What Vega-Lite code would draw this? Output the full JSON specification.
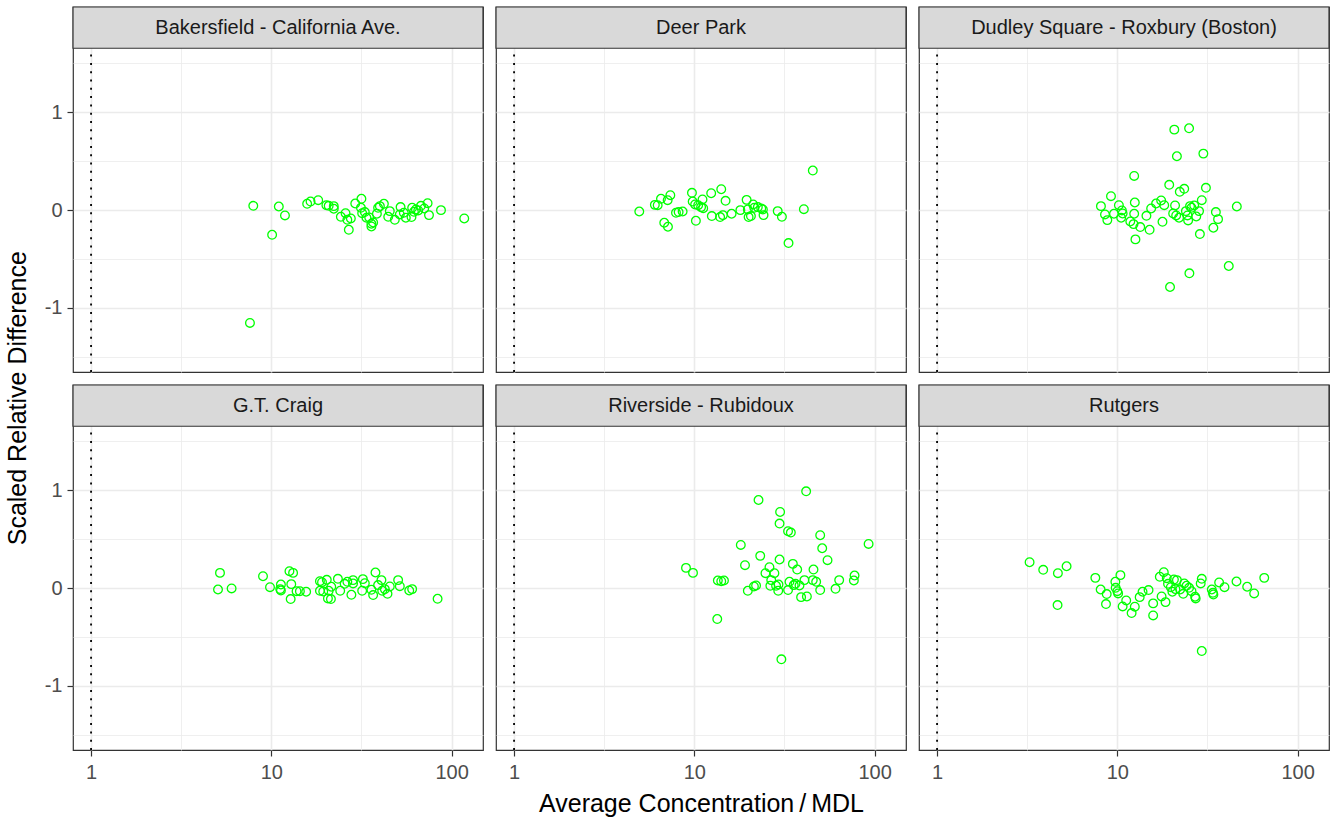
{
"$schema": "https://vega.github.io/schema/vega-lite/v6.json",
"padding": {"left": 5, "top": 5, "right": 2, "bottom": 4},
"background": "white",
"bounds": "flush",
"title": {"text": "Scaled Relative Difference", "orient": "left", "anchor": "middle", "fontSize": 25, "font": "Liberation Sans", "fontWeight": "normal", "color": "#000000", "offset": 13, "dx": 13},
"data": {"values": [
{"site":"Bakersfield - California Ave.","conc":7.94,"srd":0.044},{"site":"Bakersfield - California Ave.","conc":7.61,"srd":-1.153},{"site":"Bakersfield - California Ave.","conc":10.1,"srd":-0.252},{"site":"Bakersfield - California Ave.","conc":11.0,"srd":0.037},{"site":"Bakersfield - California Ave.","conc":11.9,"srd":-0.054},{"site":"Bakersfield - California Ave.","conc":15.8,"srd":0.065},{"site":"Bakersfield - California Ave.","conc":16.5,"srd":0.088},{"site":"Bakersfield - California Ave.","conc":18.2,"srd":0.102},{"site":"Bakersfield - California Ave.","conc":20.2,"srd":0.051},{"site":"Bakersfield - California Ave.","conc":20.8,"srd":0.044},{"site":"Bakersfield - California Ave.","conc":22.2,"srd":0.041},{"site":"Bakersfield - California Ave.","conc":22.2,"srd":0.014},{"site":"Bakersfield - California Ave.","conc":24.3,"srd":-0.068},{"site":"Bakersfield - California Ave.","conc":25.8,"srd":-0.031},{"site":"Bakersfield - California Ave.","conc":26.4,"srd":-0.099},{"site":"Bakersfield - California Ave.","conc":27.6,"srd":-0.085},{"site":"Bakersfield - California Ave.","conc":26.9,"srd":-0.201},{"site":"Bakersfield - California Ave.","conc":29.2,"srd":0.068},{"site":"Bakersfield - California Ave.","conc":31.6,"srd":0.116},{"site":"Bakersfield - California Ave.","conc":31.4,"srd":0.024},{"site":"Bakersfield - California Ave.","conc":31.9,"srd":-0.031},{"site":"Bakersfield - California Ave.","conc":33.0,"srd":-0.020},{"site":"Bakersfield - California Ave.","conc":33.7,"srd":-0.078},{"site":"Bakersfield - California Ave.","conc":34.9,"srd":-0.075},{"site":"Bakersfield - California Ave.","conc":35.9,"srd":-0.139},{"site":"Bakersfield - California Ave.","conc":35.9,"srd":-0.167},{"site":"Bakersfield - California Ave.","conc":36.7,"srd":-0.126},{"site":"Bakersfield - California Ave.","conc":38.5,"srd":-0.037},{"site":"Bakersfield - California Ave.","conc":39.1,"srd":0.024},{"site":"Bakersfield - California Ave.","conc":40.0,"srd":0.041},{"site":"Bakersfield - California Ave.","conc":42.1,"srd":0.065},{"site":"Bakersfield - California Ave.","conc":45.4,"srd":-0.010},{"site":"Bakersfield - California Ave.","conc":44.5,"srd":-0.068},{"site":"Bakersfield - California Ave.","conc":48.4,"srd":-0.099},{"site":"Bakersfield - California Ave.","conc":52.1,"srd":0.031},{"site":"Bakersfield - California Ave.","conc":51.6,"srd":-0.044},{"site":"Bakersfield - California Ave.","conc":54.3,"srd":-0.027},{"site":"Bakersfield - California Ave.","conc":55.7,"srd":-0.078},{"site":"Bakersfield - California Ave.","conc":59.9,"srd":-0.071},{"site":"Bakersfield - California Ave.","conc":60.4,"srd":0.024},{"site":"Bakersfield - California Ave.","conc":61.8,"srd":-0.017},{"site":"Bakersfield - California Ave.","conc":63.4,"srd":0.007},{"site":"Bakersfield - California Ave.","conc":65.3,"srd":-0.003},{"site":"Bakersfield - California Ave.","conc":67.6,"srd":0.044},{"site":"Bakersfield - California Ave.","conc":70.5,"srd":0.017},{"site":"Bakersfield - California Ave.","conc":73.6,"srd":0.071},{"site":"Bakersfield - California Ave.","conc":74.9,"srd":-0.051},{"site":"Bakersfield - California Ave.","conc":87.3,"srd":0.0},{"site":"Bakersfield - California Ave.","conc":117.5,"srd":-0.085},
{"site":"Deer Park","conc":4.95,"srd":-0.014},{"site":"Deer Park","conc":6.04,"srd":0.054},{"site":"Deer Park","conc":6.26,"srd":0.051},{"site":"Deer Park","conc":6.53,"srd":0.116},{"site":"Deer Park","conc":7.11,"srd":0.102},{"site":"Deer Park","conc":7.36,"srd":0.153},{"site":"Deer Park","conc":6.81,"srd":-0.129},{"site":"Deer Park","conc":7.14,"srd":-0.170},{"site":"Deer Park","conc":7.91,"srd":-0.027},{"site":"Deer Park","conc":8.18,"srd":-0.020},{"site":"Deer Park","conc":8.61,"srd":-0.014},{"site":"Deer Park","conc":9.70,"srd":0.177},{"site":"Deer Park","conc":9.79,"srd":0.088},{"site":"Deer Park","conc":10.1,"srd":0.058},{"site":"Deer Park","conc":10.2,"srd":-0.109},{"site":"Deer Park","conc":10.5,"srd":0.051},{"site":"Deer Park","conc":11.1,"srd":0.109},{"site":"Deer Park","conc":10.9,"srd":0.031},{"site":"Deer Park","conc":11.2,"srd":0.020},{"site":"Deer Park","conc":12.4,"srd":0.173},{"site":"Deer Park","conc":12.5,"srd":-0.061},{"site":"Deer Park","conc":13.9,"srd":-0.071},{"site":"Deer Park","conc":14.4,"srd":-0.051},{"site":"Deer Park","conc":14.1,"srd":0.214},{"site":"Deer Park","conc":14.9,"srd":0.095},{"site":"Deer Park","conc":16.1,"srd":-0.037},{"site":"Deer Park","conc":18.0,"srd":0.0},{"site":"Deer Park","conc":19.5,"srd":0.105},{"site":"Deer Park","conc":19.8,"srd":0.007},{"site":"Deer Park","conc":20.0,"srd":-0.071},{"site":"Deer Park","conc":20.6,"srd":-0.061},{"site":"Deer Park","conc":21.2,"srd":0.058},{"site":"Deer Park","conc":21.5,"srd":0.024},{"site":"Deer Park","conc":22.5,"srd":0.031},{"site":"Deer Park","conc":23.5,"srd":0.017},{"site":"Deer Park","conc":24.0,"srd":0.007},{"site":"Deer Park","conc":24.2,"srd":-0.051},{"site":"Deer Park","conc":29.0,"srd":-0.010},{"site":"Deer Park","conc":30.6,"srd":-0.068},{"site":"Deer Park","conc":33.3,"srd":-0.337},{"site":"Deer Park","conc":40.5,"srd":0.010},{"site":"Deer Park","conc":45.4,"srd":0.405},
{"site":"Dudley Square - Roxbury (Boston)","conc":8.11,"srd":0.041},{"site":"Dudley Square - Roxbury (Boston)","conc":8.54,"srd":-0.044},{"site":"Dudley Square - Roxbury (Boston)","conc":8.80,"srd":-0.102},{"site":"Dudley Square - Roxbury (Boston)","conc":9.22,"srd":0.143},{"site":"Dudley Square - Roxbury (Boston)","conc":9.58,"srd":-0.037},{"site":"Dudley Square - Roxbury (Boston)","conc":10.2,"srd":0.051},{"site":"Dudley Square - Roxbury (Boston)","conc":10.6,"srd":-0.003},{"site":"Dudley Square - Roxbury (Boston)","conc":10.5,"srd":-0.078},{"site":"Dudley Square - Roxbury (Boston)","conc":10.7,"srd":-0.034},{"site":"Dudley Square - Roxbury (Boston)","conc":11.8,"srd":-0.116},{"site":"Dudley Square - Roxbury (Boston)","conc":12.3,"srd":-0.143},{"site":"Dudley Square - Roxbury (Boston)","conc":12.4,"srd":-0.037},{"site":"Dudley Square - Roxbury (Boston)","conc":12.5,"srd":0.078},{"site":"Dudley Square - Roxbury (Boston)","conc":12.4,"srd":0.350},{"site":"Dudley Square - Roxbury (Boston)","conc":12.6,"srd":-0.299},{"site":"Dudley Square - Roxbury (Boston)","conc":13.4,"srd":-0.173},{"site":"Dudley Square - Roxbury (Boston)","conc":14.5,"srd":-0.058},{"site":"Dudley Square - Roxbury (Boston)","conc":15.1,"srd":-0.201},{"site":"Dudley Square - Roxbury (Boston)","conc":15.4,"srd":0.017},{"site":"Dudley Square - Roxbury (Boston)","conc":16.4,"srd":0.068},{"site":"Dudley Square - Roxbury (Boston)","conc":17.5,"srd":0.099},{"site":"Dudley Square - Roxbury (Boston)","conc":17.8,"srd":-0.119},{"site":"Dudley Square - Roxbury (Boston)","conc":18.2,"srd":0.051},{"site":"Dudley Square - Roxbury (Boston)","conc":19.4,"srd":0.259},{"site":"Dudley Square - Roxbury (Boston)","conc":19.6,"srd":-0.786},{"site":"Dudley Square - Roxbury (Boston)","conc":20.7,"srd":0.823},{"site":"Dudley Square - Roxbury (Boston)","conc":20.9,"srd":0.048},{"site":"Dudley Square - Roxbury (Boston)","conc":20.4,"srd":-0.034},{"site":"Dudley Square - Roxbury (Boston)","conc":21.2,"srd":-0.054},{"site":"Dudley Square - Roxbury (Boston)","conc":21.4,"srd":0.551},{"site":"Dudley Square - Roxbury (Boston)","conc":22.0,"srd":-0.078},{"site":"Dudley Square - Roxbury (Boston)","conc":22.2,"srd":0.187},{"site":"Dudley Square - Roxbury (Boston)","conc":23.5,"srd":0.218},{"site":"Dudley Square - Roxbury (Boston)","conc":24.0,"srd":-0.010},{"site":"Dudley Square - Roxbury (Boston)","conc":24.5,"srd":-0.054},{"site":"Dudley Square - Roxbury (Boston)","conc":24.7,"srd":-0.105},{"site":"Dudley Square - Roxbury (Boston)","conc":25.0,"srd":0.837},{"site":"Dudley Square - Roxbury (Boston)","conc":25.1,"srd":-0.646},{"site":"Dudley Square - Roxbury (Boston)","conc":25.3,"srd":0.041},{"site":"Dudley Square - Roxbury (Boston)","conc":25.8,"srd":0.024},{"site":"Dudley Square - Roxbury (Boston)","conc":26.7,"srd":0.048},{"site":"Dudley Square - Roxbury (Boston)","conc":27.4,"srd":-0.065},{"site":"Dudley Square - Roxbury (Boston)","conc":28.4,"srd":-0.010},{"site":"Dudley Square - Roxbury (Boston)","conc":28.7,"srd":-0.245},{"site":"Dudley Square - Roxbury (Boston)","conc":29.4,"srd":0.102},{"site":"Dudley Square - Roxbury (Boston)","conc":30.0,"srd":0.578},{"site":"Dudley Square - Roxbury (Boston)","conc":31.0,"srd":0.228},{"site":"Dudley Square - Roxbury (Boston)","conc":34.1,"srd":-0.180},{"site":"Dudley Square - Roxbury (Boston)","conc":35.2,"srd":-0.020},{"site":"Dudley Square - Roxbury (Boston)","conc":36.2,"srd":-0.092},{"site":"Dudley Square - Roxbury (Boston)","conc":41.5,"srd":-0.571},{"site":"Dudley Square - Roxbury (Boston)","conc":46.0,"srd":0.037},
{"site":"G.T. Craig","conc":5.06,"srd":-0.014},{"site":"G.T. Craig","conc":5.19,"srd":0.156},{"site":"G.T. Craig","conc":6.02,"srd":-0.003},{"site":"G.T. Craig","conc":8.99,"srd":0.122},{"site":"G.T. Craig","conc":9.83,"srd":0.010},{"site":"G.T. Craig","conc":11.2,"srd":-0.010},{"site":"G.T. Craig","conc":11.3,"srd":0.037},{"site":"G.T. Craig","conc":11.3,"srd":-0.024},{"site":"G.T. Craig","conc":12.6,"srd":0.173},{"site":"G.T. Craig","conc":13.2,"srd":0.156},{"site":"G.T. Craig","conc":12.9,"srd":0.041},{"site":"G.T. Craig","conc":12.8,"srd":-0.112},{"site":"G.T. Craig","conc":13.8,"srd":-0.031},{"site":"G.T. Craig","conc":14.4,"srd":-0.031},{"site":"G.T. Craig","conc":15.6,"srd":-0.037},{"site":"G.T. Craig","conc":18.6,"srd":0.071},{"site":"G.T. Craig","conc":19.1,"srd":0.061},{"site":"G.T. Craig","conc":20.3,"srd":0.085},{"site":"G.T. Craig","conc":18.6,"srd":-0.027},{"site":"G.T. Craig","conc":19.4,"srd":-0.034},{"site":"G.T. Craig","conc":20.8,"srd":-0.027},{"site":"G.T. Craig","conc":21.5,"srd":0.014},{"site":"G.T. Craig","conc":20.6,"srd":-0.105},{"site":"G.T. Craig","conc":21.4,"srd":-0.112},{"site":"G.T. Craig","conc":23.4,"srd":0.095},{"site":"G.T. Craig","conc":24.1,"srd":-0.027},{"site":"G.T. Craig","conc":25.5,"srd":0.044},{"site":"G.T. Craig","conc":26.4,"srd":0.065},{"site":"G.T. Craig","conc":27.8,"srd":-0.068},{"site":"G.T. Craig","conc":28.4,"srd":0.082},{"site":"G.T. Craig","conc":28.4,"srd":0.048},{"site":"G.T. Craig","conc":31.9,"srd":-0.027},{"site":"G.T. Craig","conc":32.2,"srd":0.092},{"site":"G.T. Craig","conc":33.0,"srd":0.051},{"site":"G.T. Craig","conc":35.9,"srd":-0.017},{"site":"G.T. Craig","conc":36.7,"srd":-0.071},{"site":"G.T. Craig","conc":37.8,"srd":0.160},{"site":"G.T. Craig","conc":39.1,"srd":0.031},{"site":"G.T. Craig","conc":40.8,"srd":0.082},{"site":"G.T. Craig","conc":41.2,"srd":-0.027},{"site":"G.T. Craig","conc":42.6,"srd":-0.010},{"site":"G.T. Craig","conc":44.1,"srd":-0.058},{"site":"G.T. Craig","conc":45.4,"srd":0.017},{"site":"G.T. Craig","conc":50.5,"srd":0.082},{"site":"G.T. Craig","conc":51.6,"srd":0.020},{"site":"G.T. Craig","conc":58.2,"srd":-0.024},{"site":"G.T. Craig","conc":60.4,"srd":-0.010},{"site":"G.T. Craig","conc":83.6,"srd":-0.109},
{"site":"Riverside - Rubidoux","conc":8.99,"srd":0.207},{"site":"Riverside - Rubidoux","conc":9.83,"srd":0.156},{"site":"Riverside - Rubidoux","conc":13.4,"srd":-0.316},{"site":"Riverside - Rubidoux","conc":13.5,"srd":0.078},{"site":"Riverside - Rubidoux","conc":14.1,"srd":0.071},{"site":"Riverside - Rubidoux","conc":14.6,"srd":0.078},{"site":"Riverside - Rubidoux","conc":18.1,"srd":0.442},{"site":"Riverside - Rubidoux","conc":19.1,"srd":0.235},{"site":"Riverside - Rubidoux","conc":19.8,"srd":-0.027},{"site":"Riverside - Rubidoux","conc":21.4,"srd":0.017},{"site":"Riverside - Rubidoux","conc":22.0,"srd":0.027},{"site":"Riverside - Rubidoux","conc":22.7,"srd":0.901},{"site":"Riverside - Rubidoux","conc":23.2,"srd":0.330},{"site":"Riverside - Rubidoux","conc":24.8,"srd":0.153},{"site":"Riverside - Rubidoux","conc":26.1,"srd":0.214},{"site":"Riverside - Rubidoux","conc":26.7,"srd":0.082},{"site":"Riverside - Rubidoux","conc":26.4,"srd":0.024},{"site":"Riverside - Rubidoux","conc":27.8,"srd":0.153},{"site":"Riverside - Rubidoux","conc":28.4,"srd":0.024},{"site":"Riverside - Rubidoux","conc":29.2,"srd":-0.027},{"site":"Riverside - Rubidoux","conc":29.7,"srd":0.293},{"site":"Riverside - Rubidoux","conc":29.9,"srd":0.779},{"site":"Riverside - Rubidoux","conc":29.7,"srd":0.660},{"site":"Riverside - Rubidoux","conc":30.4,"srd":-0.728},{"site":"Riverside - Rubidoux","conc":29.3,"srd":0.037},{"site":"Riverside - Rubidoux","conc":33.1,"srd":-0.020},{"site":"Riverside - Rubidoux","conc":33.1,"srd":0.582},{"site":"Riverside - Rubidoux","conc":34.3,"srd":0.568},{"site":"Riverside - Rubidoux","conc":33.7,"srd":0.065},{"site":"Riverside - Rubidoux","conc":35.2,"srd":0.248},{"site":"Riverside - Rubidoux","conc":35.6,"srd":0.031},{"site":"Riverside - Rubidoux","conc":36.4,"srd":0.044},{"site":"Riverside - Rubidoux","conc":37.2,"srd":0.190},{"site":"Riverside - Rubidoux","conc":38.3,"srd":0.027},{"site":"Riverside - Rubidoux","conc":39.1,"srd":-0.092},{"site":"Riverside - Rubidoux","conc":40.8,"srd":0.082},{"site":"Riverside - Rubidoux","conc":41.7,"srd":0.990},{"site":"Riverside - Rubidoux","conc":42.1,"srd":-0.085},{"site":"Riverside - Rubidoux","conc":45.4,"srd":0.082},{"site":"Riverside - Rubidoux","conc":45.8,"srd":0.190},{"site":"Riverside - Rubidoux","conc":47.4,"srd":0.065},{"site":"Riverside - Rubidoux","conc":49.9,"srd":-0.020},{"site":"Riverside - Rubidoux","conc":49.9,"srd":0.541},{"site":"Riverside - Rubidoux","conc":51.2,"srd":0.408},{"site":"Riverside - Rubidoux","conc":54.8,"srd":0.286},{"site":"Riverside - Rubidoux","conc":60.7,"srd":-0.007},{"site":"Riverside - Rubidoux","conc":63.6,"srd":0.082},{"site":"Riverside - Rubidoux","conc":76.7,"srd":0.078},{"site":"Riverside - Rubidoux","conc":77.4,"srd":0.129},{"site":"Riverside - Rubidoux","conc":92.6,"srd":0.452},
{"site":"Rutgers","conc":3.26,"srd":0.265},{"site":"Rutgers","conc":3.88,"srd":0.187},{"site":"Rutgers","conc":4.68,"srd":0.153},{"site":"Rutgers","conc":5.23,"srd":0.224},{"site":"Rutgers","conc":4.66,"srd":-0.173},{"site":"Rutgers","conc":7.55,"srd":0.105},{"site":"Rutgers","conc":8.08,"srd":-0.014},{"site":"Rutgers","conc":8.73,"srd":-0.061},{"site":"Rutgers","conc":8.65,"srd":-0.163},{"site":"Rutgers","conc":9.75,"srd":0.065},{"site":"Rutgers","conc":9.79,"srd":0.003},{"site":"Rutgers","conc":10.0,"srd":-0.031},{"site":"Rutgers","conc":10.1,"srd":-0.054},{"site":"Rutgers","conc":10.4,"srd":0.133},{"site":"Rutgers","conc":10.7,"srd":-0.187},{"site":"Rutgers","conc":11.2,"srd":-0.126},{"site":"Rutgers","conc":12.0,"srd":-0.255},{"site":"Rutgers","conc":12.5,"srd":-0.190},{"site":"Rutgers","conc":13.3,"srd":-0.092},{"site":"Rutgers","conc":13.8,"srd":-0.037},{"site":"Rutgers","conc":14.9,"srd":-0.020},{"site":"Rutgers","conc":15.8,"srd":-0.156},{"site":"Rutgers","conc":15.8,"srd":-0.279},{"site":"Rutgers","conc":17.2,"srd":0.116},{"site":"Rutgers","conc":17.6,"srd":-0.085},{"site":"Rutgers","conc":18.1,"srd":0.163},{"site":"Rutgers","conc":18.5,"srd":-0.143},{"site":"Rutgers","conc":18.8,"srd":0.102},{"site":"Rutgers","conc":19.1,"srd":0.044},{"site":"Rutgers","conc":19.8,"srd":0.010},{"site":"Rutgers","conc":20.2,"srd":-0.037},{"site":"Rutgers","conc":20.6,"srd":0.088},{"site":"Rutgers","conc":21.0,"srd":-0.010},{"site":"Rutgers","conc":21.4,"srd":0.082},{"site":"Rutgers","conc":22.3,"srd":-0.014},{"site":"Rutgers","conc":23.2,"srd":-0.058},{"site":"Rutgers","conc":23.5,"srd":0.048},{"site":"Rutgers","conc":24.2,"srd":0.024},{"site":"Rutgers","conc":25.0,"srd":0.003},{"site":"Rutgers","conc":25.8,"srd":-0.031},{"site":"Rutgers","conc":27.0,"srd":-0.088},{"site":"Rutgers","conc":27.2,"srd":-0.105},{"site":"Rutgers","conc":29.0,"srd":0.048},{"site":"Rutgers","conc":29.4,"srd":0.095},{"site":"Rutgers","conc":29.4,"srd":-0.643},{"site":"Rutgers","conc":33.4,"srd":-0.014},{"site":"Rutgers","conc":33.9,"srd":-0.048},{"site":"Rutgers","conc":34.1,"srd":-0.065},{"site":"Rutgers","conc":36.7,"srd":0.058},{"site":"Rutgers","conc":39.3,"srd":0.010},{"site":"Rutgers","conc":45.8,"srd":0.068},{"site":"Rutgers","conc":52.5,"srd":0.014},{"site":"Rutgers","conc":57.4,"srd":-0.054},{"site":"Rutgers","conc":65.3,"srd":0.105}
]},
"columns": 3,
"spacing": 13,
"concat": [
{"width": 410, "height": 365, "layer": [
 {"transform": [{"filter": {"field": "site", "equal": "Bakersfield - California Ave."}}], "mark": {"type": "point", "shape": "circle", "filled": false, "color": "#00FF00", "strokeWidth": 1.3, "size": 75, "opacity": 1, "zindex": 2},
  "encoding": {"x": {"field": "conc", "type": "quantitative", "scale": {"type": "log", "domain": [0.794, 149.3], "nice": false}, "axis": {"title": null, "labels": false, "ticks": false, "values": [1, 3.16228, 10, 31.6228, 100], "gridWidth": {"condition": {"test": "datum.value == 1 || datum.value == 10 || datum.value == 100", "value": 1.6}, "value": 0.8}}},
   "y": {"field": "srd", "type": "quantitative", "scale": {"domain": [-1.655, 2.077], "nice": false, "zero": false}, "axis": {"title": null, "values": [-1.5, -1, -0.5, 0, 0.5, 1, 1.5], "labelExpr": "datum.value == 0 ? '0' : datum.value == 1 ? '1' : datum.value == -1 ? '-1' : ''", "gridWidth": {"condition": {"test": "datum.value == 0 || datum.value == 1 || datum.value == -1", "value": 1.6}, "value": 0.8}, "tickOpacity": {"condition": {"test": "datum.value == 0 || datum.value == 1 || datum.value == -1", "value": 1}, "value": 0}}}}},
 {"data": {"values": [{"site": "Bakersfield - California Ave."}]}, "mark": {"type": "rule", "color": "#000000", "strokeWidth": 1.8, "strokeDash": [2, 6.3], "zindex": 1}, "encoding": {"x": {"datum": 1, "type": "quantitative"}, "y": {"datum": -1.655, "type": "quantitative"}, "y2": {"datum": 1.655}}},
 {"data": {"values": [{"site": "Bakersfield - California Ave."}]}, "mark": {"type": "rect", "fill": "#D9D9D9", "stroke": "#333333", "strokeWidth": 1.2, "zindex": 3}, "encoding": {"x": {"datum": 0.794, "type": "quantitative"}, "x2": {"datum": 149.3}, "y": {"datum": 1.655, "type": "quantitative"}, "y2": {"datum": 2.077}}},
 {"data": {"values": [{"site": "Bakersfield - California Ave."}]}, "mark": {"type": "text", "font": "Liberation Sans", "fontSize": 20, "color": "#1A1A1A", "align": "center", "baseline": "middle", "zindex": 4}, "encoding": {"x": {"datum": 10.888, "type": "quantitative"}, "y": {"datum": 1.866, "type": "quantitative"}, "text": {"field": "site", "type": "nominal"}}}
]},
{"width": 410, "height": 365, "layer": [
 {"transform": [{"filter": {"field": "site", "equal": "Deer Park"}}], "mark": {"type": "point", "shape": "circle", "filled": false, "color": "#00FF00", "strokeWidth": 1.3, "size": 75, "opacity": 1, "zindex": 2},
  "encoding": {"x": {"field": "conc", "type": "quantitative", "scale": {"type": "log", "domain": [0.794, 149.3], "nice": false}, "axis": {"title": null, "labels": false, "ticks": false, "values": [1, 3.16228, 10, 31.6228, 100], "gridWidth": {"condition": {"test": "datum.value == 1 || datum.value == 10 || datum.value == 100", "value": 1.6}, "value": 0.8}}},
   "y": {"field": "srd", "type": "quantitative", "scale": {"domain": [-1.655, 2.077], "nice": false, "zero": false}, "axis": {"title": null, "labels": false, "ticks": false, "values": [-1.5, -1, -0.5, 0, 0.5, 1, 1.5], "gridWidth": {"condition": {"test": "datum.value == 0 || datum.value == 1 || datum.value == -1", "value": 1.6}, "value": 0.8}}}}},
 {"data": {"values": [{"site": "Deer Park"}]}, "mark": {"type": "rule", "color": "#000000", "strokeWidth": 1.8, "strokeDash": [2, 6.3], "zindex": 1}, "encoding": {"x": {"datum": 1, "type": "quantitative"}, "y": {"datum": -1.655, "type": "quantitative"}, "y2": {"datum": 1.655}}},
 {"data": {"values": [{"site": "Deer Park"}]}, "mark": {"type": "rect", "fill": "#D9D9D9", "stroke": "#333333", "strokeWidth": 1.2, "zindex": 3}, "encoding": {"x": {"datum": 0.794, "type": "quantitative"}, "x2": {"datum": 149.3}, "y": {"datum": 1.655, "type": "quantitative"}, "y2": {"datum": 2.077}}},
 {"data": {"values": [{"site": "Deer Park"}]}, "mark": {"type": "text", "font": "Liberation Sans", "fontSize": 20, "color": "#1A1A1A", "align": "center", "baseline": "middle", "zindex": 4}, "encoding": {"x": {"datum": 10.888, "type": "quantitative"}, "y": {"datum": 1.866, "type": "quantitative"}, "text": {"field": "site", "type": "nominal"}}}
]},
{"width": 410, "height": 365, "layer": [
 {"transform": [{"filter": {"field": "site", "equal": "Dudley Square - Roxbury (Boston)"}}], "mark": {"type": "point", "shape": "circle", "filled": false, "color": "#00FF00", "strokeWidth": 1.3, "size": 75, "opacity": 1, "zindex": 2},
  "encoding": {"x": {"field": "conc", "type": "quantitative", "scale": {"type": "log", "domain": [0.794, 149.3], "nice": false}, "axis": {"title": null, "labels": false, "ticks": false, "values": [1, 3.16228, 10, 31.6228, 100], "gridWidth": {"condition": {"test": "datum.value == 1 || datum.value == 10 || datum.value == 100", "value": 1.6}, "value": 0.8}}},
   "y": {"field": "srd", "type": "quantitative", "scale": {"domain": [-1.655, 2.077], "nice": false, "zero": false}, "axis": {"title": null, "labels": false, "ticks": false, "values": [-1.5, -1, -0.5, 0, 0.5, 1, 1.5], "gridWidth": {"condition": {"test": "datum.value == 0 || datum.value == 1 || datum.value == -1", "value": 1.6}, "value": 0.8}}}}},
 {"data": {"values": [{"site": "Dudley Square - Roxbury (Boston)"}]}, "mark": {"type": "rule", "color": "#000000", "strokeWidth": 1.8, "strokeDash": [2, 6.3], "zindex": 1}, "encoding": {"x": {"datum": 1, "type": "quantitative"}, "y": {"datum": -1.655, "type": "quantitative"}, "y2": {"datum": 1.655}}},
 {"data": {"values": [{"site": "Dudley Square - Roxbury (Boston)"}]}, "mark": {"type": "rect", "fill": "#D9D9D9", "stroke": "#333333", "strokeWidth": 1.2, "zindex": 3}, "encoding": {"x": {"datum": 0.794, "type": "quantitative"}, "x2": {"datum": 149.3}, "y": {"datum": 1.655, "type": "quantitative"}, "y2": {"datum": 2.077}}},
 {"data": {"values": [{"site": "Dudley Square - Roxbury (Boston)"}]}, "mark": {"type": "text", "font": "Liberation Sans", "fontSize": 20, "color": "#1A1A1A", "align": "center", "baseline": "middle", "zindex": 4}, "encoding": {"x": {"datum": 10.888, "type": "quantitative"}, "y": {"datum": 1.866, "type": "quantitative"}, "text": {"field": "site", "type": "nominal"}}}
]},
{"width": 410, "height": 365, "layer": [
 {"transform": [{"filter": {"field": "site", "equal": "G.T. Craig"}}], "mark": {"type": "point", "shape": "circle", "filled": false, "color": "#00FF00", "strokeWidth": 1.3, "size": 75, "opacity": 1, "zindex": 2},
  "encoding": {"x": {"field": "conc", "type": "quantitative", "scale": {"type": "log", "domain": [0.794, 149.3], "nice": false}, "axis": {"title": null, "values": [1, 3.16228, 10, 31.6228, 100], "labelExpr": "datum.value == 1 ? '1' : datum.value == 10 ? '10' : datum.value == 100 ? '100' : ''", "labelFlush": false, "labelOverlap": false, "gridWidth": {"condition": {"test": "datum.value == 1 || datum.value == 10 || datum.value == 100", "value": 1.6}, "value": 0.8}, "tickOpacity": {"condition": {"test": "datum.value == 1 || datum.value == 10 || datum.value == 100", "value": 1}, "value": 0}}},
   "y": {"field": "srd", "type": "quantitative", "scale": {"domain": [-1.655, 2.077], "nice": false, "zero": false}, "axis": {"title": null, "values": [-1.5, -1, -0.5, 0, 0.5, 1, 1.5], "labelExpr": "datum.value == 0 ? '0' : datum.value == 1 ? '1' : datum.value == -1 ? '-1' : ''", "gridWidth": {"condition": {"test": "datum.value == 0 || datum.value == 1 || datum.value == -1", "value": 1.6}, "value": 0.8}, "tickOpacity": {"condition": {"test": "datum.value == 0 || datum.value == 1 || datum.value == -1", "value": 1}, "value": 0}}}}},
 {"data": {"values": [{"site": "G.T. Craig"}]}, "mark": {"type": "rule", "color": "#000000", "strokeWidth": 1.8, "strokeDash": [2, 6.3], "zindex": 1}, "encoding": {"x": {"datum": 1, "type": "quantitative"}, "y": {"datum": -1.655, "type": "quantitative"}, "y2": {"datum": 1.655}}},
 {"data": {"values": [{"site": "G.T. Craig"}]}, "mark": {"type": "rect", "fill": "#D9D9D9", "stroke": "#333333", "strokeWidth": 1.2, "zindex": 3}, "encoding": {"x": {"datum": 0.794, "type": "quantitative"}, "x2": {"datum": 149.3}, "y": {"datum": 1.655, "type": "quantitative"}, "y2": {"datum": 2.077}}},
 {"data": {"values": [{"site": "G.T. Craig"}]}, "mark": {"type": "text", "font": "Liberation Sans", "fontSize": 20, "color": "#1A1A1A", "align": "center", "baseline": "middle", "zindex": 4}, "encoding": {"x": {"datum": 10.888, "type": "quantitative"}, "y": {"datum": 1.866, "type": "quantitative"}, "text": {"field": "site", "type": "nominal"}}}
]},
{"width": 410, "height": 365, "layer": [
 {"transform": [{"filter": {"field": "site", "equal": "Riverside - Rubidoux"}}], "mark": {"type": "point", "shape": "circle", "filled": false, "color": "#00FF00", "strokeWidth": 1.3, "size": 75, "opacity": 1, "zindex": 2},
  "encoding": {"x": {"field": "conc", "type": "quantitative", "scale": {"type": "log", "domain": [0.794, 149.3], "nice": false}, "axis": {"title": "Average Concentration\u2009/\u2009MDL", "titlePadding": 9, "values": [1, 3.16228, 10, 31.6228, 100], "labelExpr": "datum.value == 1 ? '1' : datum.value == 10 ? '10' : datum.value == 100 ? '100' : ''", "labelFlush": false, "labelOverlap": false, "gridWidth": {"condition": {"test": "datum.value == 1 || datum.value == 10 || datum.value == 100", "value": 1.6}, "value": 0.8}, "tickOpacity": {"condition": {"test": "datum.value == 1 || datum.value == 10 || datum.value == 100", "value": 1}, "value": 0}}},
   "y": {"field": "srd", "type": "quantitative", "scale": {"domain": [-1.655, 2.077], "nice": false, "zero": false}, "axis": {"title": null, "labels": false, "ticks": false, "values": [-1.5, -1, -0.5, 0, 0.5, 1, 1.5], "gridWidth": {"condition": {"test": "datum.value == 0 || datum.value == 1 || datum.value == -1", "value": 1.6}, "value": 0.8}}}}},
 {"data": {"values": [{"site": "Riverside - Rubidoux"}]}, "mark": {"type": "rule", "color": "#000000", "strokeWidth": 1.8, "strokeDash": [2, 6.3], "zindex": 1}, "encoding": {"x": {"datum": 1, "type": "quantitative"}, "y": {"datum": -1.655, "type": "quantitative"}, "y2": {"datum": 1.655}}},
 {"data": {"values": [{"site": "Riverside - Rubidoux"}]}, "mark": {"type": "rect", "fill": "#D9D9D9", "stroke": "#333333", "strokeWidth": 1.2, "zindex": 3}, "encoding": {"x": {"datum": 0.794, "type": "quantitative"}, "x2": {"datum": 149.3}, "y": {"datum": 1.655, "type": "quantitative"}, "y2": {"datum": 2.077}}},
 {"data": {"values": [{"site": "Riverside - Rubidoux"}]}, "mark": {"type": "text", "font": "Liberation Sans", "fontSize": 20, "color": "#1A1A1A", "align": "center", "baseline": "middle", "zindex": 4}, "encoding": {"x": {"datum": 10.888, "type": "quantitative"}, "y": {"datum": 1.866, "type": "quantitative"}, "text": {"field": "site", "type": "nominal"}}}
]},
{"width": 410, "height": 365, "layer": [
 {"transform": [{"filter": {"field": "site", "equal": "Rutgers"}}], "mark": {"type": "point", "shape": "circle", "filled": false, "color": "#00FF00", "strokeWidth": 1.3, "size": 75, "opacity": 1, "zindex": 2},
  "encoding": {"x": {"field": "conc", "type": "quantitative", "scale": {"type": "log", "domain": [0.794, 149.3], "nice": false}, "axis": {"title": null, "values": [1, 3.16228, 10, 31.6228, 100], "labelExpr": "datum.value == 1 ? '1' : datum.value == 10 ? '10' : datum.value == 100 ? '100' : ''", "labelFlush": false, "labelOverlap": false, "gridWidth": {"condition": {"test": "datum.value == 1 || datum.value == 10 || datum.value == 100", "value": 1.6}, "value": 0.8}, "tickOpacity": {"condition": {"test": "datum.value == 1 || datum.value == 10 || datum.value == 100", "value": 1}, "value": 0}}},
   "y": {"field": "srd", "type": "quantitative", "scale": {"domain": [-1.655, 2.077], "nice": false, "zero": false}, "axis": {"title": null, "labels": false, "ticks": false, "values": [-1.5, -1, -0.5, 0, 0.5, 1, 1.5], "gridWidth": {"condition": {"test": "datum.value == 0 || datum.value == 1 || datum.value == -1", "value": 1.6}, "value": 0.8}}}}},
 {"data": {"values": [{"site": "Rutgers"}]}, "mark": {"type": "rule", "color": "#000000", "strokeWidth": 1.8, "strokeDash": [2, 6.3], "zindex": 1}, "encoding": {"x": {"datum": 1, "type": "quantitative"}, "y": {"datum": -1.655, "type": "quantitative"}, "y2": {"datum": 1.655}}},
 {"data": {"values": [{"site": "Rutgers"}]}, "mark": {"type": "rect", "fill": "#D9D9D9", "stroke": "#333333", "strokeWidth": 1.2, "zindex": 3}, "encoding": {"x": {"datum": 0.794, "type": "quantitative"}, "x2": {"datum": 149.3}, "y": {"datum": 1.655, "type": "quantitative"}, "y2": {"datum": 2.077}}},
 {"data": {"values": [{"site": "Rutgers"}]}, "mark": {"type": "text", "font": "Liberation Sans", "fontSize": 20, "color": "#1A1A1A", "align": "center", "baseline": "middle", "zindex": 4}, "encoding": {"x": {"datum": 10.888, "type": "quantitative"}, "y": {"datum": 1.866, "type": "quantitative"}, "text": {"field": "site", "type": "nominal"}}}
]}
],
"config": {
  "view": {"stroke": "#333333", "strokeWidth": 1.2},
  "font": "Liberation Sans",
  "axis": {"domain": false, "gridColor": "#EBEBEB", "tickColor": "#333333", "tickSize": 6, "tickWidth": 1.2,
    "labelFont": "Liberation Sans", "labelFontSize": 20, "labelColor": "#4D4D4D",
    "titleFont": "Liberation Sans", "titleFontSize": 25, "titleFontWeight": "normal", "titleColor": "#000000", "titlePadding": 8},
  "axisX": {"labelPadding": 6},
  "axisY": {"labelPadding": 5}
}
}
